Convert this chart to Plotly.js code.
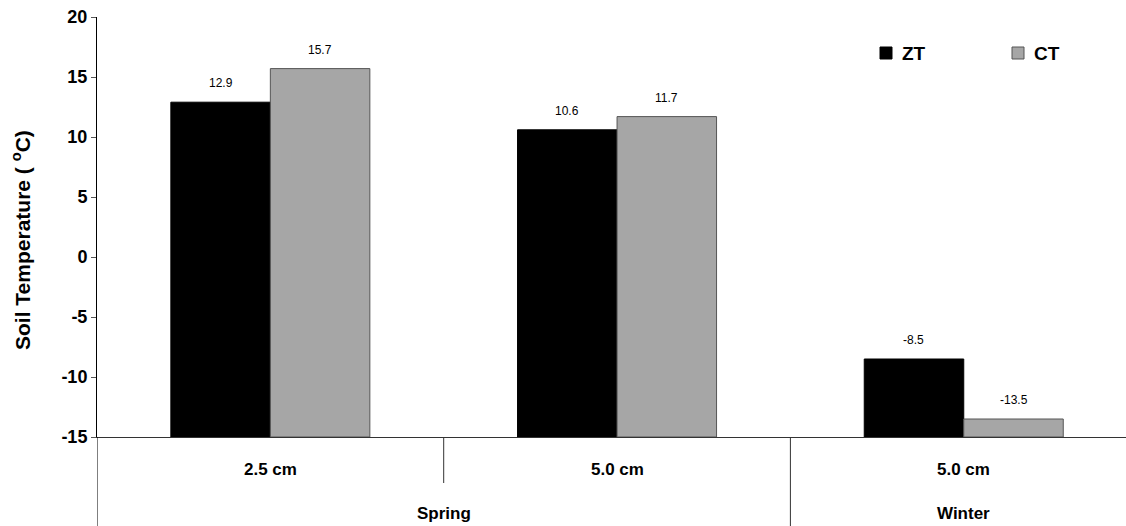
<!DOCTYPE html>
<html>
<head>
<meta charset="utf-8">
<script src="https://cdn.plot.ly/plotly-3.0.1.min.js"></script>
<style>html,body{margin:0;padding:0;background:#fff;}#chart{width:1126px;height:526px;}</style>
</head>
<body>
<div id="chart"></div>
<script>
// Data
const depthLabels = ["2.5 cm", "5.0 cm", "5.0 cm"];
const seasonLabels = ["Spring", "Winter"];
const seasonSpans = [[0, 1], [2, 2]];
const ztValues = [12.9, 10.6, -8.5];
const ctValues = [15.7, 11.7, -13.5];
const seriesNames = ["ZT", "CT"];
const yBase = -15;
const yTicks = [-15, -10, -5, 0, 5, 10, 15, 20];
const yTickText = ["-15", "-10", "-5", "0", "5", "10", "15", "20"];
const yTitle = "Soil Temperature ( <sup>o</sup>C)";

const FONT = "Liberation Sans, Arial, sans-serif";
const xs = depthLabels.map((_, i) => i);
const fills = ["#000000", "#A6A6A6"];
const edges = ["#000000", "#555555"];

function barTrace(k, vals) {
  return {
    type: "bar",
    name: seriesNames[k],
    x: xs,
    y: vals.map(v => v - yBase),
    base: yBase,
    marker: {color: fills[k], line: {color: edges[k], width: 1}},
    hoverinfo: "skip",
    showlegend: false
  };
}

const data = [barTrace(0, ztValues), barTrace(1, ctValues)];

const W = 1126, H = 526;
const plotLeft = 97, plotRight = 1126, plotTop = 17, plotBottom = 437;
const plotW = plotRight - plotLeft, plotH = plotBottom - plotTop;
const px = (p) => (p - plotLeft) / plotW;
const py = (p) => 1 - (p - plotTop) / plotH;

const bargap = 0.426;
const half = (1 - bargap) / 4;
const annotations = [];
[ztValues, ctValues].forEach((vals, s) => {
  vals.forEach((v, i) => {
    annotations.push({
      x: i + (s === 0 ? -half : half), y: v, xref: "x", yref: "y",
      text: v.toFixed(1), showarrow: false, yanchor: "middle", yshift: 19,
      font: {family: FONT, size: 12, color: "#000"}
    });
  });
});
depthLabels.forEach((t, i) => {
  annotations.push({
    x: i, y: py(469), xref: "x", yref: "paper", text: "<b>" + t + "</b>", showarrow: false,
    yanchor: "middle", font: {family: FONT, size: 17, color: "#000"}
  });
});
seasonLabels.forEach((t, k) => {
  const c = (seasonSpans[k][0] + seasonSpans[k][1]) / 2;
  annotations.push({
    x: c, y: py(513), xref: "x", yref: "paper", text: "<b>" + t + "</b>", showarrow: false,
    yanchor: "middle", font: {family: FONT, size: 17, color: "#000"}
  });
});
// y-axis title
annotations.push({
  x: px(21), y: py(240), xref: "paper", yref: "paper", textangle: -90, showarrow: false,
  xanchor: "center", yanchor: "middle", text: "<b>" + yTitle + "</b>",
  font: {family: FONT, size: 21, color: "#000"}
});

// legend (drawn manually)
const legendSquares = [[880, 47], [1012, 47]];
const legendSize = 12;
const shapes = [
  {type: "line", xref: "x", yref: "paper", x0: 0.5, x1: 0.5, y0: 0, y1: py(483), line: {color: "#333", width: 1}},
  {type: "line", xref: "x", yref: "paper", x0: 1.5, x1: 1.5, y0: 0, y1: py(526), line: {color: "#333", width: 1}},
  {type: "line", xref: "x", yref: "paper", x0: -0.5, x1: -0.5, y0: 0, y1: py(526), line: {color: "#000", width: 1}}
];
seriesNames.forEach((n, k) => {
  const [sx, sy] = legendSquares[k];
  shapes.push({type: "rect", xref: "paper", yref: "paper",
    x0: px(sx), x1: px(sx + legendSize), y0: py(sy), y1: py(sy + legendSize),
    fillcolor: fills[k], line: {color: edges[k], width: 1}});
  annotations.push({x: px(sx + legendSize + 8), y: py(sy + legendSize / 2), xref: "paper", yref: "paper",
    xanchor: "left", yanchor: "middle", showarrow: false, text: "<b>" + n + "</b>",
    font: {family: FONT, size: 19, color: "#000"}});
});

const layout = {
  width: W, height: H,
  margin: {l: plotLeft, r: W - plotRight, t: plotTop, b: H - plotBottom, autoexpand: false},
  paper_bgcolor: "#fff", plot_bgcolor: "#fff",
  barmode: "group", bargap: bargap, bargroupgap: 0,
  font: {family: FONT, color: "#000"},
  showlegend: false,
  xaxis: {
    range: [-0.5, 2.468], showticklabels: false, ticks: "", showgrid: false, zeroline: false,
    showline: true, linecolor: "#333", linewidth: 1, fixedrange: true
  },
  yaxis: {
    range: [-15, 20], tickvals: yTicks, ticktext: yTickText, ticks: "outside", ticklen: 5, tickcolor: "#555",
    showgrid: false, zeroline: false, showline: true, linecolor: "#000", linewidth: 1,
    tickfont: {family: FONT, size: 18, color: "#000", weight: "bold"},
    fixedrange: true
  },
  annotations: annotations,
  shapes: shapes
};

Plotly.newPlot("chart", data, layout, {staticPlot: true, displayModeBar: false});
</script>
</body>
</html>
